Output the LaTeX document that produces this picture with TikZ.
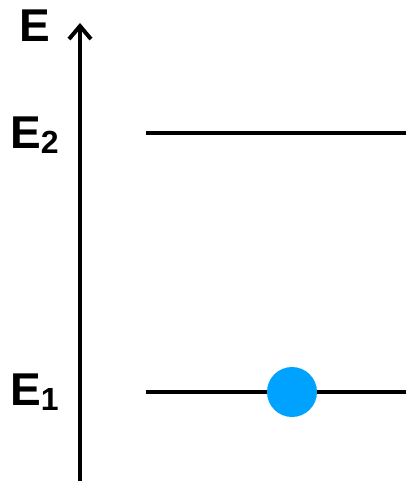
\documentclass[tikz,border=0pt]{standalone}
\usepackage{fontspec}
\setmainfont{Liberation Sans}
\usetikzlibrary{arrows.meta}
\definecolor{inkcolor}{HTML}{000000}
\definecolor{ballfill}{HTML}{00A2FF}
\newcommand{\lvlsub}[1]{\raisebox{-5pt}{\fontsize{32}{32}\selectfont\bfseries #1}}

\begin{document}
\begin{tikzpicture}[
  x=1pt, y=-1pt,
  every node/.style={font=\fontsize{46}{46}\selectfont\bfseries, inner sep=0pt},
]

\tikzset{
  axisline/.style={-{Straight Barb[length=13pt, width=22pt, line width=4pt]}, line width=3.5pt, draw=inkcolor},
  levelline/.style={line width=4pt, draw=inkcolor},
  ball/.style={circle, fill=ballfill, minimum size=50pt},
  lvllabel/.style={anchor=base west, text=inkcolor},
}

\useasboundingbox (0,0) rectangle (406,484);

% ---- energy axis ----
\coordinate (axbot) at (80,481);
\coordinate (axtop) at (80,23);
\draw[axisline] (axbot) -- (axtop);
\node[lvllabel] (elabel) at (19,42) {E};

% ---- levels ----
\coordinate (twoleft) at (146,133);
\coordinate (tworight) at (406,133);
\coordinate (oneleft) at (146,392);
\coordinate (oneright) at (406,392);
\draw[levelline] (twoleft) -- (tworight);
\draw[levelline] (oneleft) -- (oneright);
\node[lvllabel] (etwo) at (10,148) {E\lvlsub{2}};
\node[lvllabel] (eone) at (10,405) {E\lvlsub{1}};

% ---- electron ----
\node[ball] (electron) at (292,392) {};

\end{tikzpicture}
\end{document}
